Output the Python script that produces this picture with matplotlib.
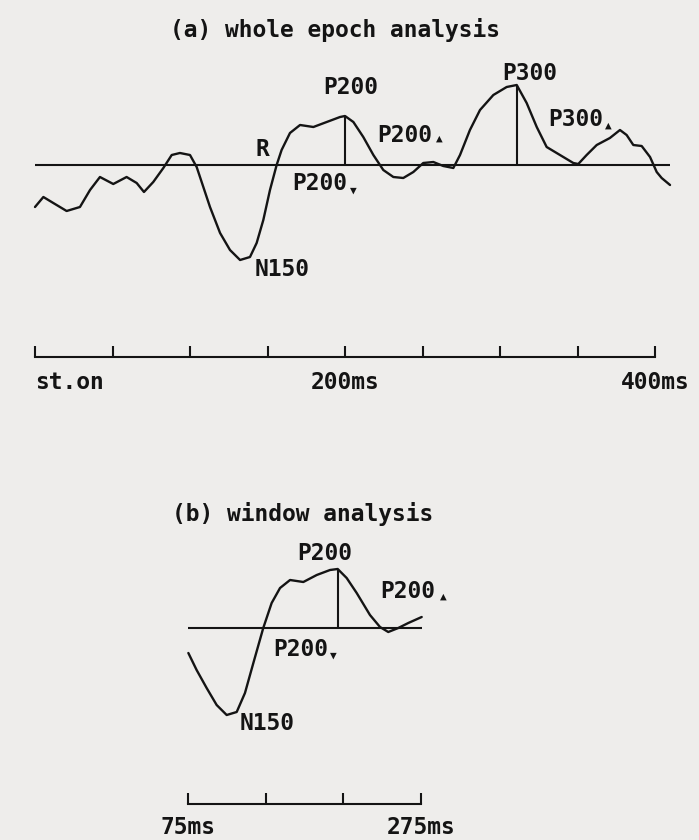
import numpy as np
import matplotlib
matplotlib.use("Agg")
import matplotlib.pyplot as plt

# ---- data: panel (a) whole epoch ERP (time in ms, amplitude in a.u., positive up)
t_whole = [0, 5.4, 11.8, 20.4, 29.0, 35.5, 41.9, 50.5, 59.1, 65.6, 70.3, 76.3, 82.8,
           88.2, 93.5, 100.0, 104.3, 108.6, 112.9, 119.4, 125.8, 132.3, 138.7, 143.0,
           147.3, 151.6, 155.9, 159.1, 164.5, 171.0, 179.6, 188.2, 196.8, 200.0, 205.4,
           211.8, 218.3, 224.7, 231.2, 237.6, 244.1, 250.5, 257.0, 263.4, 269.9, 274.2,
           280.6, 287.1, 295.7, 304.3, 310.8, 317.2, 323.7, 330.1, 338.7, 347.3, 350.5,
           355.9, 362.4, 370.9, 377.4, 381.7, 386.0, 391.4, 396.8, 401.1, 404.3, 409.7]
amp_whole = [-4.2, -3.2, -3.8, -4.6, -4.2, -2.5, -1.2, -1.9, -1.2, -1.8, -2.7, -1.7, -0.3,
             1.0, 1.2, 1.0, -0.2, -2.2, -4.2, -6.8, -8.5, -9.5, -9.2, -7.8,
             -5.5, -2.5, 0.0, 1.5, 3.2, 4.0, 3.8, 4.3, 4.8, 4.9, 4.3,
             2.8, 1.0, -0.5, -1.2, -1.3, -0.7, 0.2, 0.3, -0.1, -0.3, 1.0,
             3.5, 5.5, 7.0, 7.8, 8.0, 6.2, 3.8, 1.8, 1.0, 0.2, 0.1,
             1.0, 2.0, 2.7, 3.5, 3.0, 2.0, 1.9, 0.8, -0.7, -1.3, -2.0]

# ---- data: panel (b) window analysis
t_window = [75.3, 82.4, 91.0, 99.6, 108.2, 116.8, 123.9, 131.1, 139.6, 146.8, 154.0,
            162.6, 174.0, 185.5, 196.9, 203.5, 211.2, 219.8, 231.2, 239.8, 246.9,
            255.5, 264.1, 275.6]
amp_window = [-2.5, -4.2, -6.0, -7.7, -8.7, -8.4, -6.5, -3.5, 0.0, 2.5, 4.0,
              4.8, 4.6, 5.3, 5.8, 5.9, 5.0, 3.5, 1.3, 0.1, -0.4,
              0.0, 0.5, 1.1]

ticks_whole = [0, 50, 100, 150, 200, 250, 300, 350, 400]
ticklabels_whole = ["st.on", "", "", "", "200ms", "", "", "", "400ms"]
ticks_window = np.linspace(75, 275, 4)
ticklabels_window = ["75ms", "", "", "275ms"]

W, H = 699, 840
BG = "#eeedeb"
INK = "#141414"
FONT = ["DejaVu Sans Mono", "DejaVu Sans"]
FS = 16.5

fig = plt.figure(figsize=(W / 100, H / 100), dpi=100, facecolor=BG)


def fx(px):
    return px / W


def fy(py):
    return 1 - py / H


def label(px, py, s, size=FS):
    # py is the visual middle of the capitals
    fig.text(fx(px), fy(py + 7.5), s, ha="center", va="baseline",
             fontsize=size, fontweight="bold", family=FONT, color=INK)


def tri(px, py, s):
    fig.text(fx(px), fy(py), s, ha="center", va="center",
             fontsize=8, family=FONT, color=INK)


def setup(ax, x0_px, t0, px_per_ms, base_py, bar_py, ticks, labels, lo, hi, pad):
    ax.set_facecolor("none")
    ax.set_xlim((0 - x0_px) / px_per_ms + t0, (W - x0_px) / px_per_ms + t0)
    top_py, bot_py = ax_px_range[ax]
    ax.set_ylim((base_py - bot_py) / 10, (base_py - top_py) / 10)
    for s in ["top", "left", "right"]:
        ax.spines[s].set_visible(False)
    sp = ax.spines["bottom"]
    sp.set_position(("data", (base_py - bar_py) / 10))
    sp.set_bounds(lo, hi)
    sp.set_linewidth(1.5)
    sp.set_color(INK)
    ax.set_yticks([])
    ax.set_xticks(ticks)
    ax.set_xticklabels(labels)
    ax.tick_params(axis="x", direction="in", length=8, width=1.5, color=INK,
                   pad=pad, labelsize=FS, labelcolor=INK)
    for lab in ax.get_xticklabels():
        lab.set_family(FONT)
        lab.set_fontweight("bold")


ax_a = fig.add_axes([0, 0.5, 1, 0.5])
ax_b = fig.add_axes([0, 0.0, 1, 0.5])
ax_px_range = {ax_a: (0, 420), ax_b: (420, 840)}

line_kw = dict(color=INK, lw=1.7, solid_joinstyle="round", solid_capstyle="round")

# ---- panel (a)
setup(ax_a, 35, 0, 1.55, 165, 357, ticks_whole, ticklabels_whole, 0, 400, 10)
ax_a.get_xticklabels()[0].set_ha("left")
ax_a.hlines(0, t_whole[0], t_whole[-1], color=INK, lw=1.5)
ax_a.plot(t_whole, amp_whole, **line_kw)
ta = np.array(t_whole)
aa = np.array(amp_whole)
m200 = (ta > 170) & (ta < 230)
i200 = np.argmax(np.where(m200, aa, -np.inf))
i300 = np.argmax(aa)
ax_a.vlines([ta[i200], ta[i300]], 0, [aa[i200], aa[i300]], color=INK, lw=1.5)

# ---- panel (b)
setup(ax_b, 188, 75, 1.165, 628, 804, ticks_window, ticklabels_window, 75, 275, 9)
ax_b.hlines(0, t_window[0], t_window[-1], color=INK, lw=1.5)
ax_b.plot(t_window, amp_window, **line_kw)
tb = np.array(t_window)
ab = np.array(amp_window)
ib = np.argmax(ab)
ax_b.vlines(tb[ib], 0, ab[ib], color=INK, lw=1.5)

# ---- titles and component labels
label(335, 30, "(a) whole epoch analysis")
label(351, 87, "P200")
label(262, 148, "R")
label(320, 183, "P200")
tri(353, 191, "\u25bc")
label(282, 268, "N150")
label(405, 134, "P200")
tri(439, 139, "\u25b2")
label(530, 72, "P300")
label(576, 119, "P300")
tri(608, 126, "\u25b2")

label(303, 513, "(b) window analysis")
label(325, 553, "P200")
label(408, 590, "P200")
tri(443, 597, "\u25b2")
label(301, 648, "P200")
tri(333, 656, "\u25bc")
label(267, 722, "N150")

fig.savefig("out.png", dpi=100, facecolor=BG)
